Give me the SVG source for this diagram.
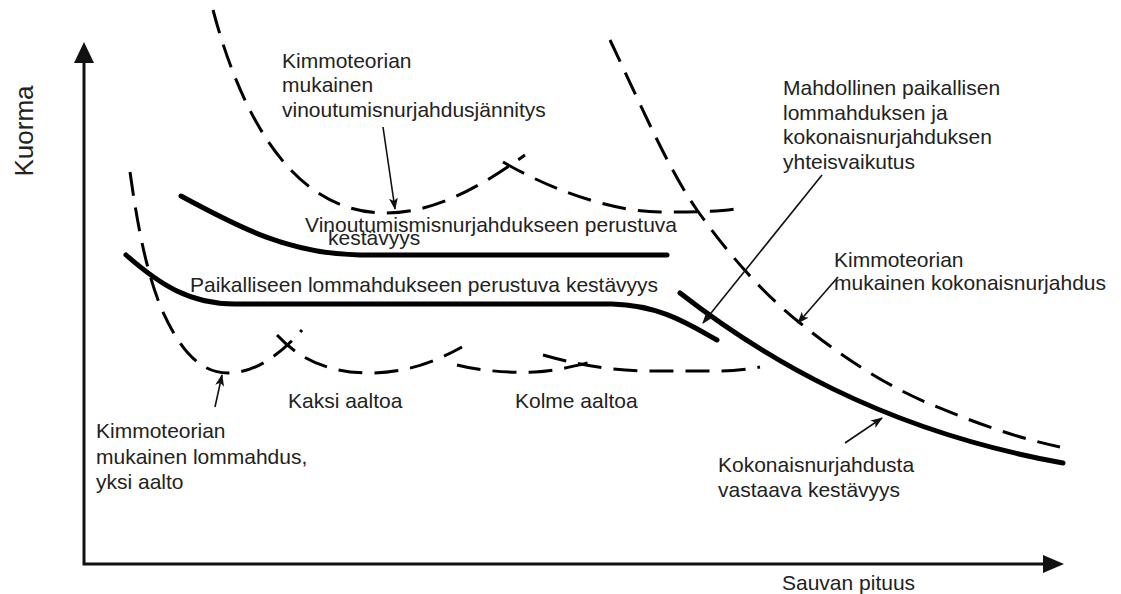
<svg xmlns="http://www.w3.org/2000/svg" width="1121" height="594" viewBox="0 0 1121 594">
<style>
text{font-family:"Liberation Sans",Arial,sans-serif;font-size:21px;fill:#222}
.axis{stroke:#111;stroke-width:3;fill:none}
.solid{stroke:#000;stroke-width:5;fill:none;stroke-linecap:round;stroke-linejoin:round}
.dash{stroke:#000;stroke-width:3;fill:none;stroke-dasharray:24 12}
.thin{stroke:#111;stroke-width:1.6;fill:none;marker-end:url(#ah)}
</style>
<defs>
<marker id="ah" markerUnits="userSpaceOnUse" markerWidth="12" markerHeight="9" refX="11" refY="4.5" orient="auto">
<path d="M0,0 L12,4.5 L0,9 L3,4.5 z" fill="#111"/>
</marker>
</defs>
<rect width="1121" height="594" fill="#fff"/>
<g id="axes">
<path class="axis" d="M84,60 L84,564 L1045,564"/>
<path d="M84,42 L74,63 L94,63 z" fill="#111"/>
<path d="M1064,564 L1043,555 L1043,573 z" fill="#111"/>
<text transform="translate(33,131) rotate(-90)" text-anchor="middle" style="font-size:26px">Kuorma</text>
<text x="782" y="590">Sauvan pituus</text>
</g>
<g id="curves">
<path id="vinoutumis-kestavyys" class="solid" d="M181,196 C240,228 290,254 360,255 L667,255"/>
<path id="paikallinen-kestavyys" class="solid" d="M126,255 C160,285 190,304 235,304 L612,304 C660,305 690,325 717,340"/>
<path id="kokonais-kestavyys" class="solid" d="M680,293 C760,355 880,430 1063,463"/>
<path id="vinoutumis-kimmo-1" class="dash" d="M213,10 C245,130 300,213 385,213 C435,213 480,187 525,155"/>
<path id="vinoutumis-kimmo-2" class="dash" d="M503,162 C560,195 620,212 660,212 C690,212 715,212 735,209"/>
<path id="lommahdus-1" class="dash" d="M130,172 C136,215 145,270 162,310 C180,350 200,373 228,373 C255,373 280,355 302,330"/>
<path id="lommahdus-2" class="dash" d="M277,335 C300,360 330,373 370,373 C405,373 435,362 462,347"/>
<path id="lommahdus-3" class="dash" d="M457,365 C480,371 510,373 535,372 C555,371 575,366 595,361"/>
<path id="lommahdus-4" class="dash" d="M543,355 C575,364 605,370 645,371 L720,371 C735,371 748,369 760,367"/>
<path id="kokonais-kimmo" class="dash" d="M610,40 C639,101 668,169 697,210 C731,258 766,296 800,323 C843,358 887,386 930,404 C973,422 1017,438 1060,447"/>
</g>
<g id="connectors">
<path class="thin" d="M383,127 L395,209"/>
<path class="thin" d="M215,407 L222,375"/>
<path class="thin" d="M822,175 L703,323"/>
<path class="thin" d="M838,277 L798,323"/>
<path class="thin" d="M845,443 L882,418"/>
</g>
<g id="label-vinoutumis-kimmo">
<text x="282" y="68">Kimmoteorian</text>
<text x="282" y="92">mukainen</text>
<text x="282" y="117">vinoutumisnurjahdusjännitys</text>
</g>
<g id="label-vinoutumis-kestavyys">
<text x="305" y="232">Vinoutumismisnurjahdukseen perustuva</text>
<text x="328" y="245">kestävyys</text>
</g>
<g id="label-paikallinen-kestavyys">
<text x="190" y="292">Paikalliseen lommahdukseen perustuva kestävyys</text>
</g>
<g id="label-kaksi"><text x="288" y="408">Kaksi aaltoa</text></g>
<g id="label-kolme"><text x="515" y="408">Kolme aaltoa</text></g>
<g id="label-lommahdus-kimmo">
<text x="96" y="438">Kimmoteorian</text>
<text x="96" y="464">mukainen lommahdus,</text>
<text x="96" y="489">yksi aalto</text>
</g>
<g id="label-yhteisvaikutus">
<text x="783" y="95">Mahdollinen paikallisen</text>
<text x="783" y="120">lommahduksen ja</text>
<text x="783" y="144">kokonaisnurjahduksen</text>
<text x="783" y="169">yhteisvaikutus</text>
</g>
<g id="label-kokonais-kimmo">
<text x="834" y="267">Kimmoteorian</text>
<text x="834" y="290">mukainen kokonaisnurjahdus</text>
</g>
<g id="label-kokonais-kestavyys">
<text x="718" y="472">Kokonaisnurjahdusta</text>
<text x="718" y="497">vastaava kestävyys</text>
</g>
</svg>
